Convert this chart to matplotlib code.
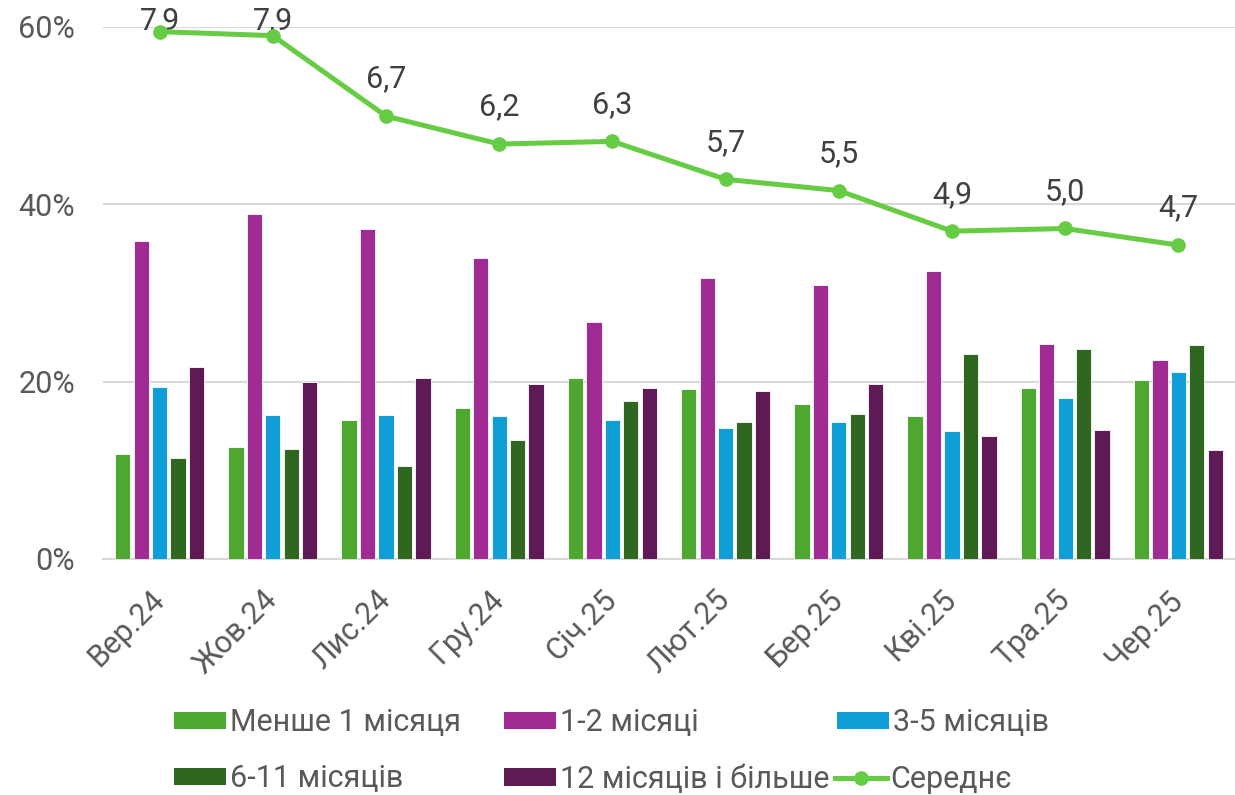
import matplotlib
matplotlib.use('Agg')
import matplotlib.pyplot as plt
import numpy as np
from matplotlib.lines import Line2D
from matplotlib.patches import Patch

plt.rcParams['font.family'] = ['Roboto', 'DejaVu Sans']

categories = ['Вер.24', 'Жов.24', 'Лис.24', 'Гру.24', 'Січ.25',
              'Лют.25', 'Бер.25', 'Кві.25', 'Тра.25', 'Чер.25']
less_1m = [11.8, 12.6, 15.7, 17.0, 20.4, 19.2, 17.5, 16.1, 19.3, 20.2]
m1_2 = [35.9, 38.9, 37.2, 33.9, 26.7, 31.7, 30.9, 32.5, 24.2, 22.4]
m3_5 = [19.4, 16.2, 16.2, 16.1, 15.7, 14.8, 15.5, 14.4, 18.2, 21.1]
m6_11 = [11.4, 12.4, 10.5, 13.4, 17.8, 15.4, 16.4, 23.1, 23.7, 24.1]
m12_plus = [21.6, 20.0, 20.4, 19.7, 19.3, 19.0, 19.7, 13.9, 14.5, 12.3]
average_months = [7.93, 7.87, 6.66, 6.24, 6.28, 5.71, 5.54, 4.93, 4.97, 4.72]

series_names = ['Менше 1 місяця', '1-2 місяці', '3-5 місяців',
                '6-11 місяців', '12 місяців і більше']
line_name = 'Середнє'
y_ticks = [0, 20, 40, 60]

colors = ['#4EA72E', '#A02B93', '#0F9ED5', '#2F6620', '#5E1A55']
line_color = '#66CC44'
text_gray = '#595959'
label_gray = '#404040'

W, H = 1235, 795
fig = plt.figure(figsize=(W / 100, H / 100), dpi=100)
ax = fig.add_axes([103 / W, (H - 559) / H, (W - 103) / W, (559 - 27) / H])

series = [less_1m, m1_2, m3_5, m6_11, m12_plus]
x = np.arange(len(categories))
pitch = 0.163
bw = 0.135
for k, (vals, c) in enumerate(zip(series, colors)):
    ax.bar(x + (k - 2) * pitch, vals, width=bw, color=c,
           edgecolor='white', linewidth=0.6, zorder=3)

ax.set_xlim(-0.5, len(categories) - 0.5)
ax.set_ylim(0, 60)
ax.set_yticks(y_ticks)
ax.set_yticklabels([f'{t}%' for t in y_ticks])
ax.grid(axis='y', color='#D9D9D9', linewidth=1.5, zorder=0)
ax.set_axisbelow(True)
for s in ['top', 'right', 'left']:
    ax.spines[s].set_visible(False)
ax.spines['bottom'].set_color('#D9D9D9')
ax.spines['bottom'].set_linewidth(1.5)
ax.tick_params(axis='y', length=0, pad=20, labelsize=22, labelcolor=text_gray)
ax.tick_params(axis='x', length=0, pad=26, labelsize=22, labelcolor=text_gray)
ax.set_xticks(x)
ax.set_xticklabels(categories, rotation=45, ha='right', va='center',
                   rotation_mode='anchor')

ax2 = ax.twinx()
ax2.set_ylim(0, 8)
ax2.axis('off')
ax2.plot(x, average_months, color=line_color, linewidth=3.6, marker='o',
         markersize=9.5, zorder=5, clip_on=False, solid_capstyle='round')

for xi, v in zip(x, average_months):
    _, yd = ax2.transData.transform((xi, v))
    off = min(37, (H - 21) - yd)
    ax2.annotate(f'{v:.1f}'.replace('.', ','), (xi, v), xytext=(0, off),
                 textcoords='offset pixels', ha='center', va='center',
                 fontsize=22, color=label_gray, annotation_clip=False)

# legend entries
handles = [Patch(facecolor=c, edgecolor='none') for c in colors]
handles.append(Line2D([], [], color=line_color, linewidth=3.6, marker='o',
                      markersize=9.5))
labels = series_names + [line_name]
positions = [(174, 723), (504, 723), (837, 723),
             (174, 779), (504, 779), (835, 779)]
for h, l, (px, py) in zip(handles, labels, positions):
    fig.legend([h], [l], loc='center left',
               bbox_to_anchor=(px / W, (H - py) / H),
               frameon=False, fontsize=22, labelcolor=text_gray,
               handlelength=1.7, handleheight=0.5, handletextpad=0.12,
               borderpad=0, borderaxespad=0, numpoints=1)

fig.savefig('out.png', dpi=100)
